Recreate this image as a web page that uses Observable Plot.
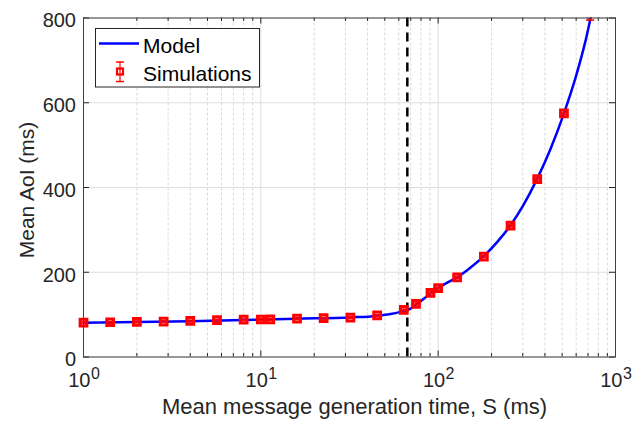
<!DOCTYPE html>
<html>
<head>
<meta charset="utf-8">
<script src="https://cdn.jsdelivr.net/npm/d3@7"></script>
<script src="https://cdn.jsdelivr.net/npm/@observablehq/plot@0.6"></script>
<style>
  html, body { margin: 0; padding: 0; background: #fff; }
  #chart svg { display: block; }
</style>
</head>
<body>
<div id="chart"></div>
<script>
// Mean message generation time S (ms) for each simulation run
const simS = [1, 1.414, 2, 2.83, 4, 5.66, 8, 10, 11.3, 16, 22.6, 32, 45.3, 64, 75, 90.5, 100, 128, 181, 256, 362, 512, 724];
// Simulated mean AoI (ms) and half-width of its error bar
const simAoI = [81, 82, 83, 83.5, 85, 87, 88, 88.5, 89, 90.5, 91.5, 93, 98, 111, 125.5, 151.5, 162.5, 188, 237, 310, 420, 575, 806];
const simErr = [2, 2, 2, 2, 2, 2, 2, 2, 2, 2, 2, 2, 2, 2, 2, 2, 2, 2, 2, 2, 2, 2, 11];

// Analytical model curve
const modelS = [1, 2, 4, 8, 16, 32, 45, 55, 64, 67, 76, 84, 91, 100, 112, 128, 150, 181, 215, 256, 300, 362, 430, 512, 600, 680, 724, 770];
const modelAoI = [81, 82.5, 84.5, 87.5, 90.5, 93.5, 97, 102, 108.5, 110.5, 125, 139, 151, 163, 175, 188, 209, 238, 271, 311, 356, 421, 491, 575, 664, 749, 800, 850];

// Stability threshold marked by the dashed line
const threshold = [67];

// Axis ticks and labels
const decadeExp = [0, 1, 2, 3];
const yTicks = [0, 200, 400, 600, 800];
const xLabel = "Mean message generation time, S (ms)";
const yLabel = "Mean AoI (ms)";
const legendLabels = ["Model", "Simulations"];

const decades = decadeExp.map(e => 10 ** e);
const minorX = [];
for (let e = 0; e < 3; e++) for (let m = 2; m <= 9; m++) minorX.push(m * 10 ** e);

const sims = simS.map((s, i) => ({s, aoi: simAoI[i], err: simErr[i]}));
const model = modelS.map((s, i) => ({s, aoi: modelAoI[i]}));

const axisColor = "#262626";
const font = "'Liberation Sans', Arial, Helvetica, sans-serif";

const chart = Plot.plot({
  width: 642,
  height: 426,
  marginLeft: 83,
  marginRight: 27,
  marginTop: 17.5,
  marginBottom: 69.5,
  x: {type: "log", domain: [1, 1000], axis: null},
  y: {domain: [0, 800], axis: null},
  style: {fontFamily: font, background: "#fff", overflow: "visible"},
  marks: [
    // grid
    Plot.ruleX(minorX, {stroke: "#dadada", strokeWidth: 1, strokeDasharray: "3,2"}),
    Plot.ruleX(decades, {stroke: "#dedede", strokeWidth: 1}),
    Plot.ruleY(yTicks, {stroke: "#dedede", strokeWidth: 1}),
    // inward ticks, bottom and top
    Plot.ruleX(decades, {x: d => d, y1: 0, y2: 0, insetTop: -6, stroke: axisColor}),
    Plot.ruleX(minorX, {x: d => d, y1: 0, y2: 0, insetTop: -3.5, stroke: axisColor}),
    Plot.ruleX(decades, {x: d => d, y1: 800, y2: 800, insetBottom: -6, stroke: axisColor}),
    Plot.ruleX(minorX, {x: d => d, y1: 800, y2: 800, insetBottom: -3.5, stroke: axisColor}),
    // inward ticks, left and right
    Plot.ruleY(yTicks, {y: d => d, x1: 1, x2: 1, insetRight: -6, stroke: axisColor}),
    Plot.ruleY(yTicks, {y: d => d, x1: 1000, x2: 1000, insetLeft: -6, stroke: axisColor}),
    // threshold
    Plot.ruleX(threshold, {stroke: "#000", strokeWidth: 2.5, strokeDasharray: "9,6"}),
    // model
    Plot.line(model, {x: "s", y: "aoi", stroke: "#0000ff", strokeWidth: 2.5, curve: "monotone-x", clip: true}),
    // simulation error bars and markers
    Plot.ruleX(sims, {x: "s", y1: d => d.aoi - d.err, y2: d => d.aoi + d.err, stroke: "#ff0000", strokeWidth: 1.2, clip: true}),
    Plot.ruleY(sims.filter(d => d.aoi - d.err <= 800), {y: d => d.aoi - d.err, x1: "s", x2: "s", insetLeft: -4, insetRight: -4, stroke: "#ff0000", strokeWidth: 1.5}),
    Plot.ruleY(sims.filter(d => d.aoi + d.err <= 800), {y: d => d.aoi + d.err, x1: "s", x2: "s", insetLeft: -4, insetRight: -4, stroke: "#ff0000", strokeWidth: 1.5}),
    Plot.dot(sims.filter(d => d.aoi <= 800), {x: "s", y: "aoi", symbol: "square", r: 3.8, fill: "none", stroke: "#ff0000", strokeWidth: 3}),
    // frame
    Plot.frame({stroke: "#404040", strokeWidth: 1}),
    // tick labels
    Plot.text(yTicks, {y: d => d, frameAnchor: "left", text: d => String(d), textAnchor: "end", dx: -7.5, dy: 3, fontSize: 20, fill: axisColor}),
    Plot.text(decadeExp, {x: d => 10 ** d, frameAnchor: "bottom", text: () => "10", textAnchor: "end", dx: 7, dy: 30.4, fontSize: 20, fill: axisColor}),
    Plot.text(decadeExp, {x: d => 10 ** d, frameAnchor: "bottom", text: d => String(d), textAnchor: "start", dx: 7.4, dy: 21.7, fontSize: 16, fill: axisColor}),
    // axis titles
    Plot.text([xLabel], {frameAnchor: "bottom", text: d => d, textAnchor: "middle", dx: 5, dy: 57, fontSize: 22, fill: axisColor}),
    Plot.text([yLabel], {frameAnchor: "left", text: d => d, textAnchor: "middle", rotate: -90, dx: -56.4, dy: 2.5, fontSize: 21, fill: axisColor})
  ]
});

// legend box in the upper-left corner of the plot area
const svg = d3.select(chart);
const lg = svg.append("g").attr("font-family", font).attr("text-anchor", "start");
lg.append("rect").attr("x", 95.5).attr("y", 28.5).attr("width", 164).attr("height", 58.5)
  .attr("fill", "#fff").attr("stroke", "#262626").attr("stroke-width", 1);
lg.append("line").attr("x1", 99).attr("x2", 139).attr("y1", 43.5).attr("y2", 43.5)
  .attr("stroke", "#0000ff").attr("stroke-width", 2.5);
lg.append("line").attr("x1", 120).attr("x2", 120).attr("y1", 62).attr("y2", 81.5)
  .attr("stroke", "#ff0000").attr("stroke-width", 1.2);
lg.append("line").attr("x1", 116).attr("x2", 124).attr("y1", 62).attr("y2", 62)
  .attr("stroke", "#ff0000").attr("stroke-width", 1.5);
lg.append("line").attr("x1", 116).attr("x2", 124).attr("y1", 81.5).attr("y2", 81.5)
  .attr("stroke", "#ff0000").attr("stroke-width", 1.5);
lg.append("rect").attr("x", 117).attr("y", 68.5).attr("width", 6).attr("height", 6)
  .attr("fill", "none").attr("stroke", "#ff0000").attr("stroke-width", 2.2);
lg.selectAll("text.lab").data(legendLabels).join("text")
  .attr("class", "lab")
  .attr("x", 143).attr("y", (d, i) => 53 + i * 28)
  .attr("font-size", 21).attr("fill", "#000").text(d => d);

document.getElementById("chart").appendChild(chart);
</script>
</body>
</html>
